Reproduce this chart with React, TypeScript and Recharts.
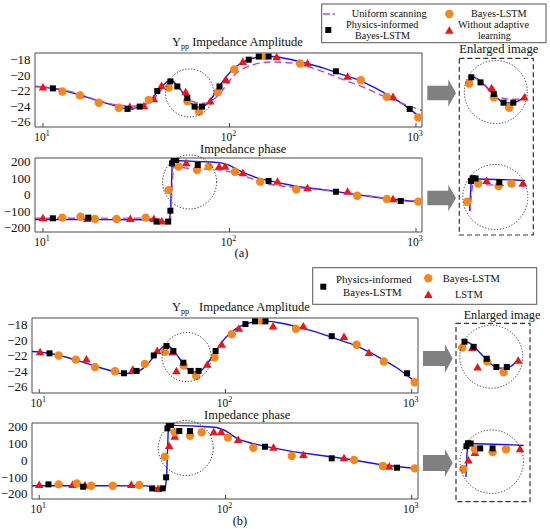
import React from 'react';
import { ComposedChart, Line, Scatter, XAxis, YAxis, ReferenceArea, ReferenceDot } from 'recharts';

type P = { f: number; v: number };
const pts = (a: number[][]): P[] => a.map(([f, v]) => ({ f, v }));

// ---------- (a) amplitude ----------
const refAmp = pts([[9.06,-21.45],[11,-21.65],[13,-22.0],[16,-22.6],[20,-23.35],[24,-23.9],[28,-24.3],[31,-24.25],[34,-24.0],[37,-23.4],[40,-22.5],[43,-21.6],[46,-20.9],[48.5,-20.65],[51,-21.0],[54,-21.7],[58,-22.7],[62,-23.6],[66,-24.05],[70,-24.1],[75,-23.8],[80,-23.0],[88,-21.5],[96,-20.2],[105,-19.2],[118,-18.3],[132,-17.85],[150,-17.6],[170,-17.6],[200,-17.85],[250,-18.4],[320,-19.1],[400,-19.9],[500,-20.7],[600,-21.6],[700,-22.5],[850,-23.7],[1000,-25.0],[1081,-25.6]]);
const uniAmp = pts([[9.06,-21.4],[12,-21.75],[16,-22.5],[20,-23.3],[25,-23.85],[30,-24.0],[35,-23.8],[39,-23.1],[43,-21.9],[47,-21.0],[50,-20.9],[54,-21.6],[58,-22.6],[63,-23.35],[68,-23.6],[75,-23.6],[80,-23.3],[90,-22.2],[100,-20.7],[112,-19.5],[125,-18.9],[145,-18.45],[170,-18.3],[210,-18.4],[260,-18.85],[330,-19.7],[420,-20.7],[540,-21.7],[700,-22.9],[880,-23.8],[1077,-24.55]]);
const physAmpA = pts([[11.3,-21.7],[28.4,-24.35],[33,-24.05],[41,-22.05],[48.2,-20.8],[52.5,-21.45],[59.4,-22.95],[65,-24.05],[71.2,-24.05],[88.4,-21.45],[126.8,-18.0],[143.5,-17.6],[162,-17.6],[372,-19.5],[925,-24.35]]);
const bayesAmpA = pts([[12.7,-22.1],[15.8,-22.6],[19.9,-23.55],[25.5,-24.2],[36.9,-23.2],[47.2,-21.6],[59.4,-23.35],[68.5,-24.7],[86.5,-22.2],[106,-19.25],[153,-17.5],[239,-18.5],[506,-20.65],[697,-22.8],[1028,-25.45]]);
const withoutAmp = pts([[10,-21.6],[15.9,-22.6],[29.2,-24.1],[34.8,-24.0],[39.3,-23.1],[43.2,-21.4],[58.2,-22.2],[78.9,-23.4],[96,-20.65],[117.8,-18.3],[179,-17.7],[262,-18.5],[430,-20.2],[753,-22.8]]);

// ---------- (a) phase ----------
const refPhaseA = pts([[9.06,-150],[20,-151],[35,-152],[40,-155],[42,-164],[47.5,-165],[48.3,-100],[49.3,190],[50.2,205],[54,206],[65,202],[80,198],[90,193],[100,178],[118,135],[140,102],[162,85],[230,50],[320,30],[450,5],[650,-20],[850,-35],[1077,-44]]);
const uniPhase = pts([[9.06,-143],[20,-142],[35,-142],[42,-148],[46,-158],[48.3,-150],[49.5,100],[50.3,175],[53,168],[60,160],[75,155],[90,150],[105,135],[120,112],[140,88],[165,62],[200,50],[260,38],[350,25],[450,8],[650,-18],[850,-32],[1077,-42]]);
const physPhaseA = pts([[11.3,-143],[17.5,-139],[40.6,-163],[46.9,-163],[48.2,-97],[49.2,190],[50.2,212],[51.8,210],[67.6,180],[162,83],[372,18],[828,-38]]);
const bayesPhaseA = pts([[12.7,-139],[15.9,-133],[19,-147],[24.8,-147],[35.5,-139],[47.2,28],[53.3,170],[67,150],[77.4,170],[107,139],[146,79],[228,33],[484,-6],[697,-26],[1028,-42]]);
const withoutPhase = pts([[10,-143],[17.3,-147],[29.4,-147],[39.3,-147],[43.4,-163],[58.6,190],[88,170],[94.8,170],[118,130],[181,79],[262,39],[430,18],[753,-28]]);

// ---------- (b) amplitude ----------
const physAmpB = pts([[11.35,-21.7],[28.5,-24.25],[33.3,-23.95],[41.2,-21.97],[48.2,-20.75],[52.5,-21.4],[59.4,-22.9],[65,-23.95],[71.7,-23.95],[88.5,-21.4],[128,-17.95],[144,-17.6],[164,-17.6],[372,-19.5],[944,-24.25]]);
const bayesAmpB = pts([[12.7,-21.97],[15.7,-22.5],[19.9,-23.45],[25.5,-24.0],[36.9,-23.05],[47.2,-21.5],[59.6,-23.25],[69.6,-24.6],[87.3,-22.2],[108,-19.25],[155,-17.5],[239,-18.55],[506,-20.6],[708,-22.75],[1037,-25.4]]);
const lstmAmp = pts([[10.1,-21.55],[17.9,-22.5],[31.8,-23.8],[43,-21.4],[51.9,-21.55],[54.5,-24.0],[79.8,-23.15],[95.5,-20.6],[118,-18.55],[180,-18.25],[262,-18.25],[433,-19.6],[589,-21.65]]);

// ---------- (b) phase ----------
const refPhaseB = pts([[9.14,-151],[20,-151],[38,-152],[41,-165],[47.5,-167],[48.3,-100],[49.3,190],[50.2,210],[54,208],[65,205],[80,200],[90,195],[100,176],[117,125],[140,100],[163,83],[230,52],[320,30],[450,8],[650,-22],[850,-38],[1081,-50]]);
const physPhaseB = pts([[11.2,-143],[17.2,-157],[40.4,-167],[46,-167],[48,-101],[48.8,190],[49.6,212],[51,210],[56.5,174],[64.5,174],[163,81],[372,12],[834,-44]]);
const bayesPhaseB = pts([[12.7,-143],[15.9,-137],[19,-151],[24.8,-151],[34.4,-147],[47.2,21],[53.4,167],[64.5,146],[74.5,167],[103,135],[141,75],[227,26],[490,2],[700,-34],[1037,-48]]);
const lstmPhase = pts([[10,-147],[15.1,-147],[17.6,-150],[31.2,-147],[43.4,-171],[49.8,85],[53.4,140],[86.5,167],[94.8,167],[117,121],[181,75],[262,32],[433,12],[757,-38]]);

const xTicks = [10, 100, 1000];
const ampTicks = [-26, -24, -22, -20, -18];
const phaseTicks = [-200, -100, 0, 100, 200];

const FONT = '"Liberation Serif", "Times New Roman", Times, serif';
const BLUE = '#1414F0';
const MAG = '#C63CE0';
const ORANGE = '#F7861C';
const RED = '#F01414';

const Square = (p: any) => <rect x={p.cx - 3} y={p.cy - 3} width={6} height={6} fill="#000" />;
const Circ = (p: any) => <circle cx={p.cx} cy={p.cy} r={4.2} fill={ORANGE} />;
const Tri = (p: any) => <polygon points={`${p.cx},${p.cy - 4.5} ${p.cx - 4.3},${p.cy + 3} ${p.cx + 4.3},${p.cy + 3}`} fill={RED} />;

type S = { kind: 'line' | 'scatter'; data: P[]; color?: string; dash?: string; curve?: any; shape?: any };

const XTick = (props: any) => {
  const { x, y, payload } = props;
  const exp = Math.round(Math.log10(payload.value));
  return (
    <g>
      <line x1={x} x2={x} y1={y} y2={y - 4} stroke="#444" />
      <text x={x - 1} y={y + 14} textAnchor="middle" fontFamily={FONT} style={{ fontFamily: FONT }} fontSize={11.5} fill="#111">
        10<tspan dy={-5} fontSize={8}>{exp}</tspan>
      </text>
    </g>
  );
};
const YTick = (props: any) => {
  const { x, y, payload } = props;
  const v = payload.value;
  const s = v < 0 ? '\u2212' + Math.abs(v) : String(v);
  return (
    <text x={x - 4.5} y={y} dy={4.5} textAnchor="end" fontFamily={FONT} style={{ fontFamily: FONT }} fontSize={13} fill="#111">{s}</text>
  );
};

const renderSeries = (series: S[], prefix: string) =>
  series.map((s, i) =>
    s.kind === 'line' ? (
      <Line key={prefix + i} data={s.data} dataKey="v" type={s.curve || 'monotone'} stroke={s.color} strokeWidth={1.4}
        strokeDasharray={s.dash} dot={false} activeDot={false} isAnimationActive={false} />
    ) : (
      <Scatter key={prefix + i} data={s.data} dataKey="v" shape={s.shape} isAnimationActive={false} />
    )
  );

type PanelCfg = {
  top: number; plotTop: number; plotBottom: number; plotLeft: number; plotRight: number;
  xDomain: [number, number]; yDomain: [number, number]; yTicks: number[];
  circle: { f: number; v: number; r: number }; series: S[];
};

function Panel({ cfg, id }: { cfg: PanelCfg; id: string }) {
  const xh = 24;
  const height = cfg.plotBottom - cfg.top + xh;
  return (
    <div style={{ position: 'absolute', left: 0, top: cfg.top }}>
      <ComposedChart width={550} height={height}
        margin={{ top: cfg.plotTop - cfg.top, right: 550 - cfg.plotRight, bottom: 0, left: 0 }}>
        <XAxis type="number" dataKey="f" scale="log" domain={cfg.xDomain} allowDataOverflow ticks={xTicks}
          interval={0} axisLine={false} tickLine={false} tickSize={0} tickMargin={0} height={xh} tick={<XTick />} />
        <YAxis type="number" dataKey="v" domain={cfg.yDomain} allowDataOverflow ticks={cfg.yTicks} interval={0}
          width={cfg.plotLeft} axisLine={false} tickLine={false} tickSize={0} tickMargin={0} tick={<YTick />} />
        <ReferenceArea x1={cfg.xDomain[0]} x2={cfg.xDomain[1]} y1={cfg.yDomain[0]} y2={cfg.yDomain[1]}
          fill="none" fillOpacity={0} stroke="#4a4a4a" strokeWidth={1} ifOverflow="visible" />
        {renderSeries(cfg.series, id)}
        <ReferenceDot x={cfg.circle.f} y={cfg.circle.v} r={cfg.circle.r} fill="none" stroke="#222"
          strokeWidth={1} strokeDasharray="1.2 1.8" ifOverflow="visible" />
      </ComposedChart>
    </div>
  );
}

type InsetCfg = { left: number; top: number; width: number; height: number; xDomain: [number, number]; yDomain: [number, number]; lineRange: [number, number]; series: S[] };

function Inset({ cfg, id }: { cfg: InsetCfg; id: string }) {
  const [x0, x1] = cfg.xDomain;
  const [y0, y1] = cfg.yDomain;
  const series: S[] = cfg.series.map((s) => ({
    ...s,
    data: s.kind === 'line'
      ? s.data.filter((p) => p.f >= cfg.lineRange[0] && p.f <= cfg.lineRange[1])
      : s.data.filter((p) => p.f >= cfg.lineRange[0] - 1.5 && p.f <= cfg.lineRange[1] && p.v >= y0 && p.v <= y1 && p.f >= x0 && p.f <= x1),
  }));
  return (
    <div style={{ position: 'absolute', left: cfg.left, top: cfg.top }}>
      <ComposedChart width={cfg.width} height={cfg.height} margin={{ top: 0, right: 0, bottom: 0, left: 0 }}>
        <XAxis hide type="number" dataKey="f" scale="log" domain={cfg.xDomain} allowDataOverflow />
        <YAxis hide type="number" dataKey="v" domain={cfg.yDomain} allowDataOverflow />
        {renderSeries(series, id)}
      </ComposedChart>
    </div>
  );
}

const seriesAmpA: S[] = [
  { kind: 'line', data: refAmp, color: BLUE },
  { kind: 'line', data: uniAmp, color: MAG, dash: '7 4' },
  { kind: 'scatter', data: withoutAmp, shape: Tri },
  { kind: 'scatter', data: bayesAmpA, shape: Circ },
  { kind: 'scatter', data: physAmpA, shape: Square },
];
const seriesPhaseA: S[] = [
  { kind: 'line', data: refPhaseA, color: BLUE, curve: 'linear' },
  { kind: 'line', data: uniPhase, color: MAG, dash: '7 4', curve: 'linear' },
  { kind: 'scatter', data: withoutPhase, shape: Tri },
  { kind: 'scatter', data: bayesPhaseA, shape: Circ },
  { kind: 'scatter', data: physPhaseA, shape: Square },
];
const seriesAmpB: S[] = [
  { kind: 'line', data: refAmp, color: BLUE },
  { kind: 'scatter', data: lstmAmp, shape: Tri },
  { kind: 'scatter', data: bayesAmpB, shape: Circ },
  { kind: 'scatter', data: physAmpB, shape: Square },
];
const seriesPhaseB: S[] = [
  { kind: 'line', data: refPhaseB, color: BLUE, curve: 'linear' },
  { kind: 'scatter', data: lstmPhase, shape: Tri },
  { kind: 'scatter', data: bayesPhaseB, shape: Circ },
  { kind: 'scatter', data: physPhaseB, shape: Square },
];

const panelAmpA: PanelCfg = { top: 40, plotTop: 53, plotBottom: 127, plotLeft: 35, plotRight: 422, xDomain: [9.06, 1077], yDomain: [-26.68, -17.14], yTicks: ampTicks, circle: { f: 61.1, v: -22.29, r: 24 }, series: seriesAmpA };
const panelPhaseA: PanelCfg = { top: 150, plotTop: 158, plotBottom: 232, plotLeft: 35, plotRight: 422, xDomain: [9.06, 1077], yDomain: [-226, 222.4], yTicks: phaseTicks, circle: { f: 61.1, v: 77, r: 27 }, series: seriesPhaseA };
const panelAmpB: PanelCfg = { top: 310, plotTop: 318, plotBottom: 393, plotLeft: 32, plotRight: 418, xDomain: [9.14, 1081], yDomain: [-26.78, -17.17], yTicks: ampTicks, circle: { f: 61.9, v: -22.17, r: 24.5 }, series: seriesAmpB };
const panelPhaseB: PanelCfg = { top: 415, plotTop: 423, plotBottom: 499, plotLeft: 32, plotRight: 418, xDomain: [9.14, 1081], yDomain: [-230, 222], yTicks: phaseTicks, circle: { f: 61.2, v: 73, r: 27.5 }, series: seriesPhaseB };

const insetAmpA: InsetCfg = { left: 461, top: 62, width: 70, height: 66, xDomain: [43.8, 83.9], yDomain: [-27.3, -18.84], lineRange: [48, 80], series: seriesAmpA };
const insetPhaseA: InsetCfg = { left: 461, top: 150, width: 70, height: 61, xDomain: [44, 96.4], yDomain: [-44, 432], lineRange: [48, 90], series: seriesPhaseA };
const insetAmpB: InsetCfg = { left: 456, top: 326, width: 72, height: 66, xDomain: [44.5, 87.5], yDomain: [-27.1, -18.77], lineRange: [48, 82], series: seriesAmpB };
const insetPhaseB: InsetCfg = { left: 457, top: 420, width: 71, height: 57, xDomain: [44.1, 94.2], yDomain: [-38, 384], lineRange: [48, 90], series: seriesPhaseB };

const T = (props: any) => <text fontFamily={FONT} style={{ fontFamily: FONT }} fill="#111" {...props} />;

const Arrow = ({ x0, x1, x2, cy, bh, hh }: any) => (
  <polygon fill="#808080"
    points={`${x0},${cy - bh} ${x1},${cy - bh} ${x1},${cy - hh} ${x2},${cy} ${x1},${cy + hh} ${x1},${cy + bh} ${x0},${cy + bh}`} />
);

function Overlay() {
  const fs = 10;
  const mid = (a: number, b: number) => (a + b) / 2;
  const LT = ({ x0, x1, cy, children }: any) => (
    <T x={mid(x0, x1)} y={cy + 3.5} fontSize={fs} textAnchor="middle" textLength={x1 - x0} lengthAdjust="spacingAndGlyphs">{children}</T>
  );
  const sq = (x: number, y: number) => <rect x={x - 3} y={y - 3} width={6} height={6} fill="#000" />;
  const ci = (x: number, y: number) => <circle cx={x} cy={y} r={4.2} fill={ORANGE} />;
  const tr = (x: number, y: number) => <polygon points={`${x},${y - 4.5} ${x - 4.3},${y + 3} ${x + 4.3},${y + 3}`} fill={RED} />;
  return (
    <svg width={550} height={529} style={{ position: 'absolute', left: 0, top: 0, pointerEvents: 'none' }}>
      {/* titles */}
      <T x={172} y={46} fontSize={12.5}>Y<tspan fontSize={8} dy={3}>pp</tspan><tspan dy={-3}> Impedance Amplitude</tspan></T>
      <T x={200} y={152.5} fontSize={12.5}>Impedance phase</T>
      <T x={241.5} y={257} fontSize={12.5} textAnchor="middle">(a)</T>
      <T x={172} y={311} fontSize={12.5}>Y<tspan fontSize={8} dy={3}>pp</tspan></T>
      <T x={199} y={311} fontSize={12.5}>Impedance Amplitude</T>
      <T x={204} y={418.5} fontSize={12.5}>Impedance phase</T>
      <T x={240} y={525} fontSize={12.5} textAnchor="middle">(b)</T>

      {/* legend (a) */}
      <rect x={321.7} y={4} width={224.3} height={38.7} fill="#fff" stroke="#555" strokeWidth={1} />
      <line x1={323} x2={330} y1={14} y2={14} stroke={MAG} strokeWidth={1.4} />
      <line x1={332.5} x2={335} y1={14} y2={14} stroke={MAG} strokeWidth={1.4} />
      <LT x0={351.7} x1={426.7} cy={13.5}>Uniform scanning</LT>
      {sq(328.3, 30)}
      <LT x0={346} x1={418.3} cy={24.8}>Physics-informed</LT>
      <LT x0={355} x1={410} cy={35.8}>Bayes-LSTM</LT>
      {ci(449.3, 14)}
      <LT x0={471} x1={526.7} cy={13.5}>Bayes-LSTM</LT>
      {tr(449.3, 30.7)}
      <LT x0={458} x1={529} cy={24.8}>Without adaptive</LT>
      <LT x0={478} x1={510.7} cy={35.8}>learning</LT>

      {/* legend (b) */}
      <rect x={312.7} y={267.7} width={224} height={36.6} fill="#fff" stroke="#555" strokeWidth={1} />
      {sq(323.3, 286.7)}
      <LT x0={336} x1={411.7} cy={279.5}>Physics-informed</LT>
      <LT x0={343} x1={401.7} cy={292.5}>Bayes-LSTM</LT>
      {ci(428.3, 278.3)}
      <LT x0={442.7} x1={500} cy={278.3}>Bayes-LSTM</LT>
      {tr(428.3, 295)}
      <LT x0={455} x1={482.7} cy={294.3}>LSTM</LT>

      {/* enlarged image frames */}
      <T x={498.8} y={52.5} fontSize={13} textAnchor="middle" textLength={79} lengthAdjust="spacingAndGlyphs">Enlarged image</T>
      <rect x={459.3} y={58.3} width={74} height={176.7} fill="none" stroke="#333" strokeWidth={1.2} strokeDasharray="5 3" />
      <circle cx={495.8} cy={92} r={31.5} fill="none" stroke="#333" strokeWidth={1} strokeDasharray="1.2 1.8" />
      <circle cx={495.3} cy={197} r={32.5} fill="none" stroke="#333" strokeWidth={1} strokeDasharray="1.2 1.8" />
      <T x={502} y={318.5} fontSize={13} textAnchor="middle" textLength={76.7} lengthAdjust="spacingAndGlyphs">Enlarged image</T>
      <rect x={456} y={323.3} width={74} height={178.4} fill="none" stroke="#333" strokeWidth={1.2} strokeDasharray="5 3" />
      <circle cx={491.3} cy={356.7} r={31.5} fill="none" stroke="#333" strokeWidth={1} strokeDasharray="1.2 1.8" />
      <circle cx={491.7} cy={461.7} r={31.7} fill="none" stroke="#333" strokeWidth={1} strokeDasharray="1.2 1.8" />

      {/* arrows */}
      <Arrow x0={427.3} x1={448.3} x2={456} cy={93} bh={7.3} hh={13.7} />
      <Arrow x0={427.3} x1={448.3} x2={456} cy={198} bh={7.2} hh={13.3} />
      <Arrow x0={423} x1={445} x2={452.7} cy={358.5} bh={7.5} hh={14.2} />
      <Arrow x0={423} x1={445} x2={452.7} cy={463} bh={8} hh={13.8} />
    </svg>
  );
}

export default function App() {
  return (
    <div style={{ position: 'absolute', left: 0, top: 0, width: 550, height: 529, background: '#fff', overflow: 'hidden', fontFamily: FONT }}>
      <Panel cfg={panelAmpA} id="aa" />
      <Panel cfg={panelPhaseA} id="ap" />
      <Panel cfg={panelAmpB} id="ba" />
      <Panel cfg={panelPhaseB} id="bp" />
      <Inset cfg={insetAmpA} id="ia" />
      <Inset cfg={insetPhaseA} id="ip" />
      <Inset cfg={insetAmpB} id="ib" />
      <Inset cfg={insetPhaseB} id="iq" />
      <Overlay />
    </div>
  );
}
